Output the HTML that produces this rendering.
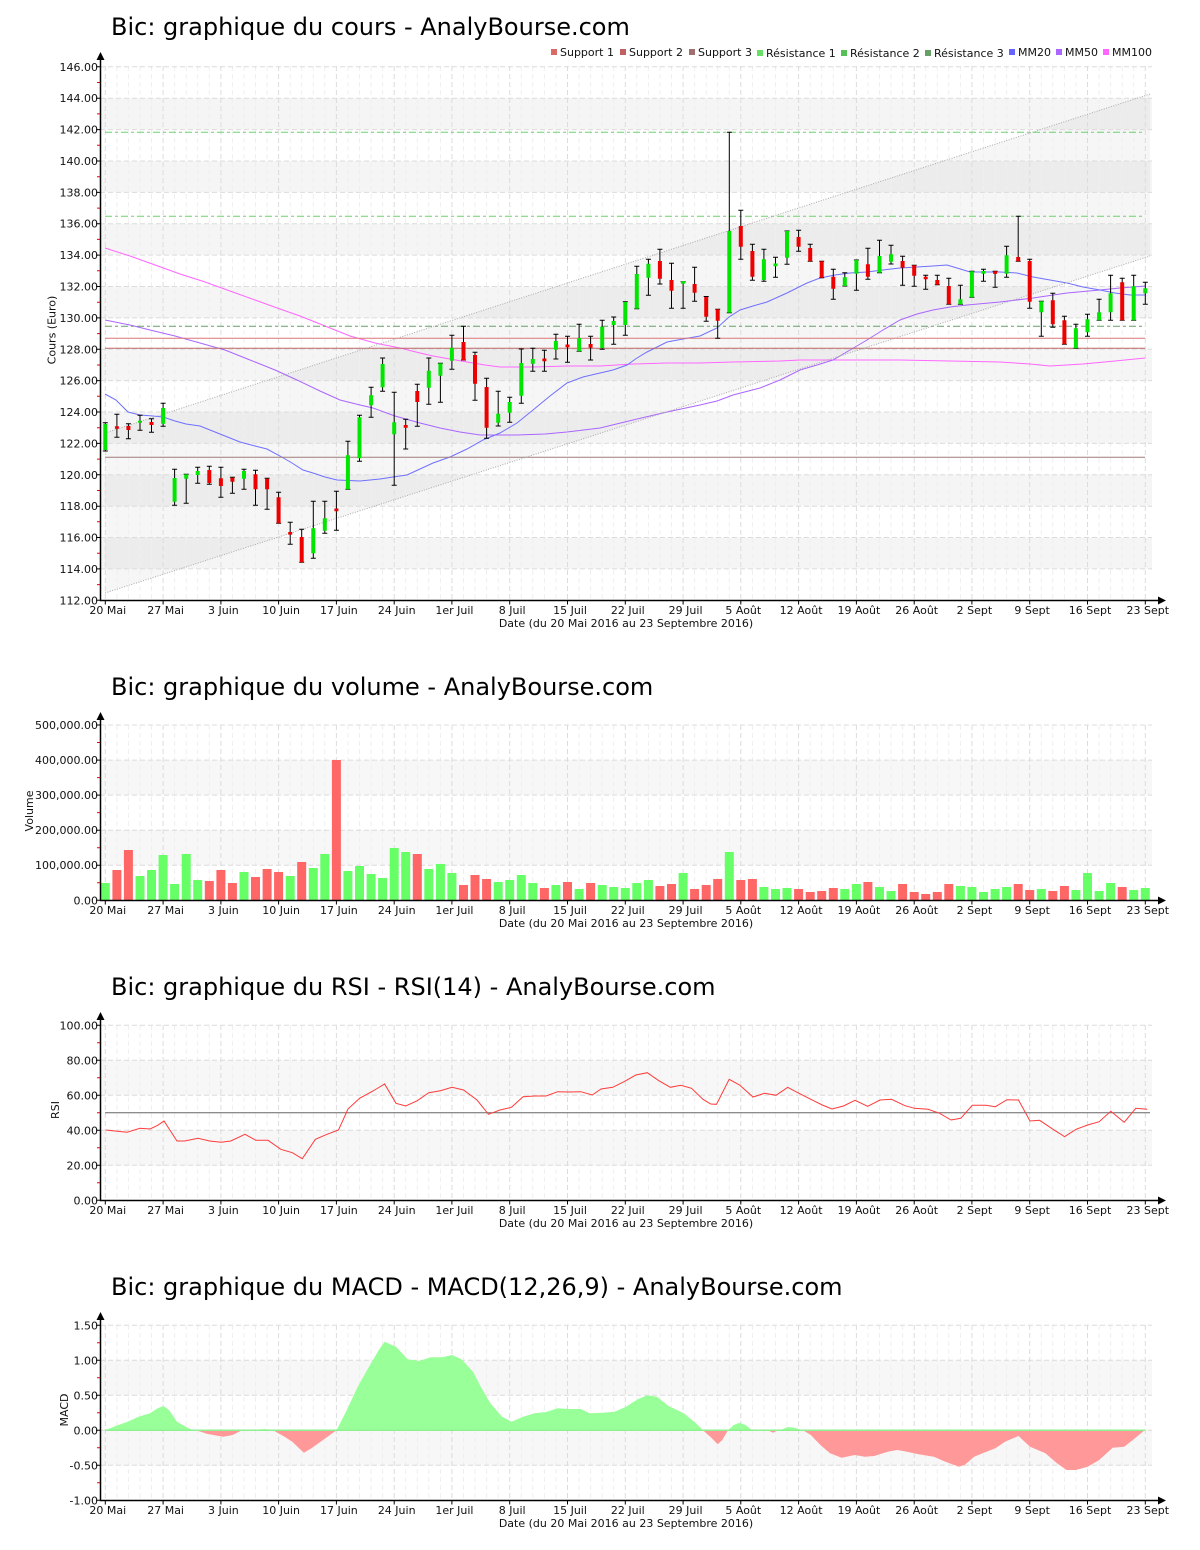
<!DOCTYPE html>
<html><head><meta charset="utf-8"><style>
html,body{margin:0;padding:0;background:#fff;width:1200px;height:1550px;overflow:hidden}
svg{display:block;overflow:hidden}
text{font-family:"DejaVu Sans","Liberation Sans",sans-serif;fill:#111}
.t{font-size:24px;fill:#000}
.l{font-size:11px}
</style></head><body>
<svg width="1200" height="1550" viewBox="0 0 1200 1550" xmlns="http://www.w3.org/2000/svg">
<defs>
<path id="vgm" d="M116.9 0v534M128.4 0v534M140 0v534M151.5 0v534M174.6 0v534M186.2 0v534M197.7 0v534M209.3 0v534M232.4 0v534M244 0v534M255.5 0v534M267.1 0v534M290.2 0v534M301.7 0v534M313.3 0v534M324.8 0v534M347.9 0v534M359.5 0v534M371.1 0v534M382.6 0v534M405.7 0v534M417.3 0v534M428.8 0v534M440.4 0v534M463.5 0v534M475 0v534M486.6 0v534M498.2 0v534M521.3 0v534M532.8 0v534M544.4 0v534M555.9 0v534M579.1 0v534M590.6 0v534M602.2 0v534M613.7 0v534M636.8 0v534M648.4 0v534M659.9 0v534M671.5 0v534M694.6 0v534M706.2 0v534M717.7 0v534M729.3 0v534M752.4 0v534M763.9 0v534M775.5 0v534M787 0v534M810.2 0v534M821.7 0v534M833.3 0v534M844.8 0v534M867.9 0v534M879.5 0v534M891 0v534M902.6 0v534M925.7 0v534M937.3 0v534M948.8 0v534M960.4 0v534M983.5 0v534M995.1 0v534M1006.6 0v534M1018.2 0v534M1041.3 0v534M1052.8 0v534M1064.4 0v534M1075.9 0v534M1099.1 0v534M1110.6 0v534M1122.2 0v534M1133.7 0v534" fill="none" stroke="#efefef" stroke-width="1" stroke-dasharray="5,3"/>
<path id="vgM" d="M105.3 0v534M163.1 0v534M220.9 0v534M278.6 0v534M336.4 0v534M394.2 0v534M451.9 0v534M509.7 0v534M567.5 0v534M625.3 0v534M683.1 0v534M740.8 0v534M798.6 0v534M856.4 0v534M914.2 0v534M971.9 0v534M1029.7 0v534M1087.5 0v534M1145.3 0v534" fill="none" stroke="#dcdcdc" stroke-width="1" stroke-dasharray="5,3"/>
<path id="vgm2" d="M116.9 0v175M128.4 0v175M140 0v175M151.5 0v175M174.6 0v175M186.2 0v175M197.7 0v175M209.3 0v175M232.4 0v175M244 0v175M255.5 0v175M267.1 0v175M290.2 0v175M301.7 0v175M313.3 0v175M324.8 0v175M347.9 0v175M359.5 0v175M371.1 0v175M382.6 0v175M405.7 0v175M417.3 0v175M428.8 0v175M440.4 0v175M463.5 0v175M475 0v175M486.6 0v175M498.2 0v175M521.3 0v175M532.8 0v175M544.4 0v175M555.9 0v175M579.1 0v175M590.6 0v175M602.2 0v175M613.7 0v175M636.8 0v175M648.4 0v175M659.9 0v175M671.5 0v175M694.6 0v175M706.2 0v175M717.7 0v175M729.3 0v175M752.4 0v175M763.9 0v175M775.5 0v175M787 0v175M810.2 0v175M821.7 0v175M833.3 0v175M844.8 0v175M867.9 0v175M879.5 0v175M891 0v175M902.6 0v175M925.7 0v175M937.3 0v175M948.8 0v175M960.4 0v175M983.5 0v175M995.1 0v175M1006.6 0v175M1018.2 0v175M1041.3 0v175M1052.8 0v175M1064.4 0v175M1075.9 0v175M1099.1 0v175M1110.6 0v175M1122.2 0v175M1133.7 0v175" fill="none" stroke="#efefef" stroke-width="1" stroke-dasharray="5,3"/>
<path id="vgM2" d="M105.3 0v175M163.1 0v175M220.9 0v175M278.6 0v175M336.4 0v175M394.2 0v175M451.9 0v175M509.7 0v175M567.5 0v175M625.3 0v175M683.1 0v175M740.8 0v175M798.6 0v175M856.4 0v175M914.2 0v175M971.9 0v175M1029.7 0v175M1087.5 0v175M1145.3 0v175" fill="none" stroke="#dcdcdc" stroke-width="1" stroke-dasharray="5,3"/>
<path id="xt" d="M105.3 0v4M163.1 0v4M220.9 0v4M278.6 0v4M336.4 0v4M394.2 0v4M451.9 0v4M509.7 0v4M567.5 0v4M625.3 0v4M683.1 0v4M740.8 0v4M798.6 0v4M856.4 0v4M914.2 0v4M971.9 0v4M1029.7 0v4M1087.5 0v4M1145.3 0v4" fill="none" stroke="#000" stroke-width="1"/>
<g id="xl" class="l" text-anchor="middle">
<text x="107.8" y="0">20 Mai</text><text x="165.6" y="0">27 Mai</text><text x="223.4" y="0">3 Juin</text><text x="281.1" y="0">10 Juin</text><text x="338.9" y="0">17 Juin</text><text x="396.7" y="0">24 Juin</text><text x="454.4" y="0">1er Juil</text><text x="512.2" y="0">8 Juil</text><text x="570" y="0">15 Juil</text><text x="627.8" y="0">22 Juil</text><text x="685.6" y="0">29 Juil</text><text x="743.3" y="0">5 Août</text><text x="801.1" y="0">12 Août</text><text x="858.9" y="0">19 Août</text><text x="916.7" y="0">26 Août</text><text x="974.4" y="0">2 Sept</text><text x="1032.2" y="0">9 Sept</text><text x="1090" y="0">16 Sept</text><text x="1147.8" y="0">23 Sept</text>
<text x="626" y="13">Date (du 20 Mai 2016 au 23 Septembre 2016)</text>
</g>
</defs>
<rect width="1200" height="1550" fill="#fff"/>

<!-- ============ CHART 1 : COURS ============ -->
<text class="t" x="111" y="35">Bic: graphique du cours - AnalyBourse.com</text>
<g class="l">
<rect x="551" y="49" width="6" height="6" fill="#d86a6a"/><text x="560" y="56">Support 1</text>
<rect x="620" y="49" width="6" height="6" fill="#c06060"/><text x="629" y="56">Support 2</text>
<rect x="689" y="49" width="6" height="6" fill="#a07070"/><text x="698" y="56">Support 3</text>
<rect x="757" y="50" width="6" height="6" fill="#66e066"/><text x="766" y="57">Résistance 1</text>
<rect x="841" y="50" width="6" height="6" fill="#55c055"/><text x="850" y="57">Résistance 2</text>
<rect x="925" y="50" width="6" height="6" fill="#66a066"/><text x="934" y="57">Résistance 3</text>
<rect x="1009" y="49" width="6" height="6" fill="#6666ff"/><text x="1018" y="56">MM20</text>
<rect x="1056" y="49" width="6" height="6" fill="#aa66ff"/><text x="1065" y="56">MM50</text>
<rect x="1103" y="49" width="6" height="6" fill="#ff66ff"/><text x="1112" y="56">MM100</text>
</g>
<g fill="#f5f5f5">
<rect x="100" y="537.5" width="1052" height="31.4"/><rect x="100" y="474.8" width="1052" height="31.4"/><rect x="100" y="412" width="1052" height="31.4"/><rect x="100" y="349.3" width="1052" height="31.3"/><rect x="100" y="286.5" width="1052" height="31.4"/><rect x="100" y="223.7" width="1052" height="31.4"/><rect x="100" y="161" width="1052" height="31.4"/><rect x="100" y="98.2" width="1052" height="31.4"/>
</g>
<polygon points="105,433 1150,94 1150,256 105,593" fill="#000" fill-opacity="0.035"/>
<use href="#vgm" y="66"/><use href="#vgM" y="66"/>
<path d="M100 568.9H1152M100 537.5H1152M100 506.2H1152M100 474.8H1152M100 443.4H1152M100 412H1152M100 380.6H1152M100 349.3H1152M100 317.9H1152M100 286.5H1152M100 255.1H1152M100 223.7H1152M100 192.4H1152M100 161H1152M100 129.6H1152M100 98.2H1152M100 66.8H1152" stroke="#dcdcdc" stroke-dasharray="5,3" fill="none"/>
<polyline fill="none" stroke="#ff66ff" stroke-width="1" points="105,248 130,256 155,265 180,274 205,282 230,291 255,300 280,309 300,316 325,326 350,336 375,343 400,348 420,353 433,356 450,359 467,362 485,365 500,367 533,367 567,366 600,366 633,364 667,363 700,363 733,362 780,361 800,360 850,360 900,360 950,361 1000,362 1030,364 1050,366 1083,364 1115,361 1145,358"/>
<polyline fill="none" stroke="#aa66ff" stroke-width="1" points="105,320 130,325 150,330 175,336 200,343 225,350 250,360 275,370 297,380 320,391 340,400 360,405 373,408 395,416 420,423 440,428 460,432 480,435 517,435 545,434 567,432 600,428 633,420 667,412 700,405 717,401 733,395 760,388 780,380 800,370 817,365 833,360 850,350 867,340 883,330 900,320 917,314 933,310 950,307 967,305 1000,302 1033,298 1067,293 1100,290 1120,288 1145,286"/>
<polyline fill="none" stroke="#7070ff" stroke-width="1" points="105,394 116,400 128,412 140,415 153,416 163,417 175,421 186,424 200,426 220,434 240,442 255,446 267,449 280,456 292,463 303,470 313,473 325,477 337,480 360,481 380,479 393,477 407,475 420,469 433,463 450,457 467,449 483,440 500,433 517,423 533,410 550,396 567,383 583,377 600,373 613,370 627,365 637,358 647,352 667,342 683,339 700,336 717,328 729,317 740,310 753,306 767,302 787,293 807,283 820,278 835,275 850,273 867,272 883,270 900,268 917,267 933,266 947,265 957,268 970,272 985,272 1000,272 1017,273 1033,277 1050,280 1067,283 1083,287 1100,290 1115,293 1130,295 1145,295"/>
<path d="M105 338.3H1145" stroke="#dd7777" stroke-width="1" fill="none"/>
<path d="M105 348.3H1145" stroke="#bb6666" stroke-width="1" fill="none"/>
<path d="M105 457.3H1145" stroke="#a07a7a" stroke-width="1" fill="none"/>
<path d="M105 216.3H1145M105 132.3H1145" stroke="#6cd06c" stroke-width="1" stroke-dasharray="7,3,3,3" fill="none"/>
<path d="M105 326.3H1145" stroke="#66a066" stroke-width="1" stroke-dasharray="7,3,3,3" fill="none"/>
<path d="M105 433L1150 94M105 593L1150 256" stroke="#aaaaaa" stroke-width="1" stroke-dasharray="1,1.5" fill="none"/>
<path fill="none" stroke="#000" stroke-width="1" d="M102.8 422.7h5M105.3 422.7V451M102.8 451h5M114.4 414.3h5M116.9 414.3V437.3M114.4 437.3h5M125.9 423.7h5M128.4 423.7V438.7M125.9 438.7h5M137.5 415.3h5M140 415.3V430.3M137.5 430.3h5M149 418.7h5M151.5 418.7V432.3M149 432.3h5M160.6 403.3h5M163.1 403.3V426.3M160.6 426.3h5M172.1 469.3h5M174.6 469.3V505.3M172.1 505.3h5M183.7 474.3h5M186.2 474.3V503.3M183.7 503.3h5M195.2 467.3h5M197.7 467.3V483.3M195.2 483.3h5M206.8 466.3h5M209.3 466.3V484.3M206.8 484.3h5M218.4 467.3h5M220.9 467.3V497.3M218.4 497.3h5M229.9 477.3h5M232.4 477.3V493.3M229.9 493.3h5M241.5 469.3h5M244 469.3V489.3M241.5 489.3h5M253 470.3h5M255.5 470.3V505.3M253 505.3h5M264.6 478.3h5M267.1 478.3V509.3M264.6 509.3h5M276.1 492.3h5M278.6 492.3V523.3M276.1 523.3h5M287.7 522.3h5M290.2 522.3V544.3M287.7 544.3h5M299.2 529.3h5M301.7 529.3V562.3M299.2 562.3h5M310.8 501.3h5M313.3 501.3V558.3M310.8 558.3h5M322.3 501.3h5M324.8 501.3V533.3M322.3 533.3h5M333.9 491.3h5M336.4 491.3V530.3M333.9 530.3h5M345.4 441.3h5M347.9 441.3V489.3M345.4 489.3h5M357 415.3h5M359.5 415.3V461.3M357 461.3h5M368.6 387.3h5M371.1 387.3V417.3M368.6 417.3h5M380.1 358h5M382.6 358V391.3M380.1 391.3h5M391.7 392.3h5M394.2 392.3V485.3M391.7 485.3h5M403.2 419.3h5M405.7 419.3V449M403.2 449h5M414.8 384.3h5M417.3 384.3V426.3M414.8 426.3h5M426.3 358h5M428.8 358V404.3M426.3 404.3h5M437.9 363.3h5M440.4 363.3V402.3M437.9 402.3h5M449.4 335.3h5M451.9 335.3V369.3M449.4 369.3h5M461 326.3h5M463.5 326.3V360M461 360h5M472.5 352.3h5M475 352.3V400.3M472.5 400.3h5M484.1 378.3h5M486.6 378.3V438.3M484.1 438.3h5M495.7 391.3h5M498.2 391.3V426M495.7 426h5M507.2 397.3h5M509.7 397.3V422.3M507.2 422.3h5M518.8 349h5M521.3 349V403.3M518.8 403.3h5M530.3 348.3h5M532.8 348.3V371.3M530.3 371.3h5M541.9 350.3h5M544.4 350.3V371.3M541.9 371.3h5M553.4 334.3h5M555.9 334.3V359M553.4 359h5M565 336.3h5M567.5 336.3V362.3M565 362.3h5M576.6 324.3h5M579.1 324.3V351.3M576.6 351.3h5M588.1 336.3h5M590.6 336.3V360M588.1 360h5M599.7 320.3h5M602.2 320.3V349.3M599.7 349.3h5M611.2 317h5M613.7 317V344.3M611.2 344.3h5M622.8 301.7h5M625.3 301.7V335.3M622.8 335.3h5M634.3 266.3h5M636.8 266.3V308.7M634.3 308.7h5M645.9 259.3h5M648.4 259.3V295.3M645.9 295.3h5M657.4 249.3h5M659.9 249.3V284M657.4 284h5M669 263.3h5M671.5 263.3V308.3M669 308.3h5M680.6 281.7h5M683.1 281.7V308.3M680.6 308.3h5M692.1 267.3h5M694.6 267.3V301.3M692.1 301.3h5M703.7 296.5h5M706.2 296.5V321.3M703.7 321.3h5M715.2 309.3h5M717.7 309.3V338.3M715.2 338.3h5M726.8 132.3h5M729.3 132.3V312.7M726.8 312.7h5M738.3 210.3h5M740.8 210.3V259.3M738.3 259.3h5M749.9 244.3h5M752.4 244.3V280.3M749.9 280.3h5M761.4 249.3h5M763.9 249.3V281.3M761.4 281.3h5M773 257.3h5M775.5 257.3V277.3M773 277.3h5M784.5 231h5M787 231V264.3M784.5 264.3h5M796.1 230.3h5M798.6 230.3V251.3M796.1 251.3h5M807.7 244.3h5M810.2 244.3V261.3M807.7 261.3h5M819.2 261.3h5M821.7 261.3V277.7M819.2 277.7h5M830.8 269.3h5M833.3 269.3V299.3M830.8 299.3h5M842.3 272.7h5M844.8 272.7V286M842.3 286h5M853.9 260h5M856.4 260V290.3M853.9 290.3h5M865.4 248.3h5M867.9 248.3V279.3M865.4 279.3h5M877 240.3h5M879.5 240.3V272.7M877 272.7h5M888.5 245.3h5M891 245.3V264M888.5 264h5M900.1 256.3h5M902.6 256.3V285.3M900.1 285.3h5M911.7 265.3h5M914.2 265.3V286.3M911.7 286.3h5M923.2 275.3h5M925.7 275.3V289.3M923.2 289.3h5M934.8 275.3h5M937.3 275.3V284.7M934.8 284.7h5M946.3 278.3h5M948.8 278.3V304.3M946.3 304.3h5M957.9 285.3h5M960.4 285.3V304.3M957.9 304.3h5M969.4 271.3h5M971.9 271.3V297.3M969.4 297.3h5M981 269.3h5M983.5 269.3V281.3M981 281.3h5M992.6 271.3h5M995.1 271.3V287.3M992.6 287.3h5M1004.1 246.3h5M1006.6 246.3V277.3M1004.1 277.3h5M1015.7 216.3h5M1018.2 216.3V261.3M1015.7 261.3h5M1027.2 259.3h5M1029.7 259.3V308.3M1027.2 308.3h5M1038.8 301.3h5M1041.3 301.3V336.3M1038.8 336.3h5M1050.3 293.3h5M1052.8 293.3V327.3M1050.3 327.3h5M1061.9 316.3h5M1064.4 316.3V344.3M1061.9 344.3h5M1073.4 324.3h5M1075.9 324.3V348.3M1073.4 348.3h5M1085 314.3h5M1087.5 314.3V336.3M1085 336.3h5M1096.6 299.3h5M1099.1 299.3V320.3M1096.6 320.3h5M1108.1 275.3h5M1110.6 275.3V320.3M1108.1 320.3h5M1119.7 278.3h5M1122.2 278.3V320.3M1119.7 320.3h5M1131.2 275.3h5M1133.7 275.3V320.3M1131.2 320.3h5M1142.8 282.3h5M1145.3 282.3V304.3M1142.8 304.3h5"/>
<path fill="#00e600" d="M103.3 424h4V450h-4ZM138 420.7h4V422.7h-4ZM161.1 408h4V423.7h-4ZM172.6 478h4V501.7h-4ZM184.2 474.3h4V478.7h-4ZM195.7 471h4V475h-4ZM242 471h4V478.7h-4ZM311.3 528.3h4V553.3h-4ZM322.8 518.3h4V530.7h-4ZM345.9 455.3h4V489.3h-4ZM357.5 417.3h4V458.3h-4ZM369.1 395.3h4V405.3h-4ZM380.6 364h4V387.3h-4ZM392.2 422.3h4V434.3h-4ZM426.8 370.7h4V387.7h-4ZM438.4 363.3h4V375.7h-4ZM449.9 347.7h4V360.7h-4ZM496.2 413.7h4V422.7h-4ZM507.7 402h4V412.7h-4ZM519.3 363h4V395.7h-4ZM530.8 359h4V363.7h-4ZM553.9 341h4V349.7h-4ZM577.1 338h4V351.3h-4ZM600.2 326.7h4V348h-4ZM611.7 321h4V325h-4ZM623.3 302h4V325h-4ZM634.8 274h4V308.7h-4ZM646.4 263.7h4V277.7h-4ZM681.1 281.2h4V283.8h-4ZM727.3 231h4V312.7h-4ZM761.9 259.3h4V280h-4ZM773.5 263.5h4V266.2h-4ZM785 231h4V257.7h-4ZM842.8 277.3h4V286h-4ZM854.4 260h4V273.7h-4ZM877.5 256h4V272.7h-4ZM889 254.3h4V261.7h-4ZM958.4 299.3h4V304.3h-4ZM969.9 271.3h4V297.3h-4ZM981.5 271h4V273.7h-4ZM1004.6 255.3h4V273.7h-4ZM1039.3 301.3h4V312.3h-4ZM1073.9 328.3h4V348.3h-4ZM1085.5 319.3h4V332.3h-4ZM1097.1 312.3h4V320.3h-4ZM1108.6 293.3h4V312.3h-4ZM1131.7 286.3h4V320.3h-4ZM1143.3 288.3h4V293.3h-4Z"/>
<path fill="#ee0000" d="M114.9 426.2h4V428.8h-4ZM126.4 426h4V430h-4ZM149.5 422h4V425h-4ZM207.3 470h4V483h-4ZM218.9 478.3h4V486h-4ZM230.4 477.7h4V481.7h-4ZM253.5 474.3h4V489.3h-4ZM265.1 478.7h4V489.3h-4ZM276.6 497.3h4V523.3h-4ZM288.2 532h4V534.6h-4ZM299.7 537h4V562.3h-4ZM334.4 508.5h4V511.2h-4ZM403.7 425h4V427.7h-4ZM415.3 391h4V402h-4ZM461.5 342h4V360.3h-4ZM473 355h4V383.7h-4ZM484.6 387h4V427.7h-4ZM542.4 358.5h4V361.2h-4ZM565.5 344.5h4V347.2h-4ZM588.6 344h4V347.7h-4ZM657.9 261h4V278.7h-4ZM669.5 280h4V290.7h-4ZM692.6 284h4V292.7h-4ZM704.2 297h4V316.7h-4ZM715.7 309.3h4V320.7h-4ZM738.8 226h4V246.7h-4ZM750.4 251h4V276.7h-4ZM796.6 237h4V246.7h-4ZM808.2 248h4V261.3h-4ZM819.7 261.3h4V277.7h-4ZM831.3 276.7h4V288.7h-4ZM865.9 264.3h4V276.7h-4ZM900.6 261h4V267.7h-4ZM912.2 265.3h4V275.7h-4ZM923.7 276.7h4V279.3h-4ZM935.3 280h4V284.7h-4ZM946.8 286h4V304.3h-4ZM993.1 271.3h4V273.9h-4ZM1016.2 257h4V261.3h-4ZM1027.7 261h4V301.7h-4ZM1050.8 300.3h4V324.3h-4ZM1062.4 320.3h4V344.3h-4ZM1120.2 282.3h4V320.3h-4Z"/>
<path d="M100.5 59V600.5H1159" stroke="#000" stroke-width="1.5" fill="none"/>
<path d="M100.5 52L96.5 60H104.5Z" fill="#000"/>
<path d="M1166 600.5L1158 596.5V604.5Z" fill="#000"/>
<path d="M96 600.3h4M96 568.9h4M96 537.5h4M96 506.2h4M96 474.8h4M96 443.4h4M96 412h4M96 380.6h4M96 349.3h4M96 317.9h4M96 286.5h4M96 255.1h4M96 223.7h4M96 192.4h4M96 161h4M96 129.6h4M96 98.2h4M96 66.8h4" stroke="#000" fill="none"/>
<path d="M97 584.6h3M97 553.2h3M97 521.8h3M97 490.5h3M97 459.1h3M97 427.7h3M97 396.3h3M97 365h3M97 333.6h3M97 302.2h3M97 270.8h3M97 239.4h3M97 208.1h3M97 176.7h3M97 145.3h3M97 113.9h3M97 82.5h3" stroke="#e00" fill="none"/>
<use href="#xt" y="600.5"/>
<g class="l" text-anchor="end">
<text x="98" y="604.3">112.00</text><text x="98" y="572.9">114.00</text><text x="98" y="541.5">116.00</text><text x="98" y="510.2">118.00</text><text x="98" y="478.8">120.00</text><text x="98" y="447.4">122.00</text><text x="98" y="416">124.00</text><text x="98" y="384.6">126.00</text><text x="98" y="353.3">128.00</text><text x="98" y="321.9">130.00</text><text x="98" y="290.5">132.00</text><text x="98" y="259.1">134.00</text><text x="98" y="227.7">136.00</text><text x="98" y="196.4">138.00</text><text x="98" y="165">140.00</text><text x="98" y="133.6">142.00</text><text x="98" y="102.2">144.00</text><text x="98" y="70.8">146.00</text>
</g>
<text class="l" text-anchor="middle" transform="translate(55.5,330) rotate(-90)">Cours (Euro)</text>
<use href="#xl" y="614"/>

<!-- ============ CHART 2 : VOLUME ============ -->
<text class="t" x="111" y="695">Bic: graphique du volume - AnalyBourse.com</text>
<g fill="#f7f7f7"><rect x="100" y="830.2" width="1052" height="35"/><rect x="100" y="760.1" width="1052" height="35"/></g>
<use href="#vgm2" y="725"/><use href="#vgM2" y="725"/>
<path d="M100 865.2H1152M100 830.2H1152M100 795.1H1152M100 760.1H1152M100 725H1152" stroke="#dcdcdc" stroke-dasharray="5,3" fill="none"/>
<path fill="#66ff66" d="M100.8 883h9V900h-9ZM135.5 876h9V900h-9ZM147 870h9V900h-9ZM158.6 855h9V900h-9ZM170.1 884h9V900h-9ZM181.7 854h9V900h-9ZM193.2 880h9V900h-9ZM239.5 872h9V900h-9ZM285.7 876h9V900h-9ZM308.8 868h9V900h-9ZM320.3 854h9V900h-9ZM343.4 871h9V900h-9ZM355 866h9V900h-9ZM366.6 874h9V900h-9ZM378.1 878h9V900h-9ZM389.7 848h9V900h-9ZM401.2 852h9V900h-9ZM424.3 869h9V900h-9ZM435.9 864h9V900h-9ZM447.4 873h9V900h-9ZM493.7 882h9V900h-9ZM505.2 880h9V900h-9ZM516.8 875h9V900h-9ZM528.3 883h9V900h-9ZM551.4 885h9V900h-9ZM574.6 889h9V900h-9ZM597.7 885h9V900h-9ZM609.2 887h9V900h-9ZM620.8 888h9V900h-9ZM632.3 883h9V900h-9ZM643.9 880h9V900h-9ZM678.6 873h9V900h-9ZM724.8 852h9V900h-9ZM759.4 887h9V900h-9ZM771 889h9V900h-9ZM782.5 888h9V900h-9ZM840.3 889h9V900h-9ZM851.9 884h9V900h-9ZM875 887h9V900h-9ZM886.5 891h9V900h-9ZM955.9 886h9V900h-9ZM967.4 887h9V900h-9ZM979 892h9V900h-9ZM990.6 889h9V900h-9ZM1002.1 887h9V900h-9ZM1036.8 889h9V900h-9ZM1071.4 890h9V900h-9ZM1083 873h9V900h-9ZM1094.6 891h9V900h-9ZM1106.1 883h9V900h-9ZM1129.2 890h9V900h-9ZM1140.8 888h9V900h-9Z"/>
<path fill="#ff6666" d="M112.4 870h9V900h-9ZM123.9 850h9V900h-9ZM204.8 881h9V900h-9ZM216.4 870h9V900h-9ZM227.9 883h9V900h-9ZM251 877h9V900h-9ZM262.6 869h9V900h-9ZM274.1 872h9V900h-9ZM297.2 862h9V900h-9ZM331.9 760h9V900h-9ZM412.8 854h9V900h-9ZM459 885h9V900h-9ZM470.5 875h9V900h-9ZM482.1 879h9V900h-9ZM539.9 888h9V900h-9ZM563 882h9V900h-9ZM586.1 883h9V900h-9ZM655.4 886h9V900h-9ZM667 884h9V900h-9ZM690.1 889h9V900h-9ZM701.7 885h9V900h-9ZM713.2 879h9V900h-9ZM736.3 880h9V900h-9ZM747.9 879h9V900h-9ZM794.1 889h9V900h-9ZM805.7 892h9V900h-9ZM817.2 891h9V900h-9ZM828.8 888h9V900h-9ZM863.4 882h9V900h-9ZM898.1 884h9V900h-9ZM909.7 892h9V900h-9ZM921.2 894h9V900h-9ZM932.8 892h9V900h-9ZM944.3 884h9V900h-9ZM1013.7 884h9V900h-9ZM1025.2 890h9V900h-9ZM1048.3 891h9V900h-9ZM1059.9 886h9V900h-9ZM1117.7 887h9V900h-9Z"/>
<path d="M100.5 719V900.5H1159" stroke="#000" stroke-width="1.5" fill="none"/>
<path d="M100.5 712L96.5 720H104.5Z" fill="#000"/>
<path d="M1166 900.5L1158 896.5V904.5Z" fill="#000"/>
<path d="M96 900.3h4M96 865.2h4M96 830.2h4M96 795.1h4M96 760.1h4M96 725h4" stroke="#000" fill="none"/>
<path d="M97 882.8h3M97 847.7h3M97 812.6h3M97 777.6h3M97 742.5h3" stroke="#e00" fill="none"/>
<use href="#xt" y="900.5"/>
<g class="l" text-anchor="end">
<text x="98" y="904.3">0.00</text><text x="98" y="869.2">100,000.00</text><text x="98" y="834.2">200,000.00</text><text x="98" y="799.1">300,000.00</text><text x="98" y="764.1">400,000.00</text><text x="98" y="729">500,000.00</text>
</g>
<text class="l" text-anchor="middle" transform="translate(33,811) rotate(-90)">Volume</text>
<use href="#xl" y="914"/>

<!-- ============ CHART 3 : RSI ============ -->
<text class="t" x="111" y="995">Bic: graphique du RSI - RSI(14) - AnalyBourse.com</text>
<g fill="#f7f7f7"><rect x="100" y="1130.3" width="1052" height="35"/><rect x="100" y="1060.3" width="1052" height="35"/></g>
<use href="#vgm2" y="1025"/><use href="#vgM2" y="1025"/>
<path d="M100 1165.3H1152M100 1130.3H1152M100 1095.3H1152M100 1060.3H1152M100 1025.3H1152" stroke="#dcdcdc" stroke-dasharray="5,3" fill="none"/>
<path d="M105 1112.8H1150" stroke="#666" stroke-width="1" fill="none"/>
<polyline fill="none" stroke="#ff3b3b" stroke-width="1" points="105.8,1130 115,1131 127,1132.3 140,1128.3 150,1129 157.7,1125.3 164,1121 177,1141 184.6,1141 198,1138.3 209.6,1141 221,1142.3 230.8,1141 245,1134.3 255.8,1140.3 268,1140.3 280.8,1149.3 292.3,1152.7 302.3,1158.7 315.4,1139.3 327,1134.3 338.5,1130 348,1109 359.6,1098.3 373,1091 384.6,1084 396,1103.3 405.8,1106 417.3,1100.7 428.8,1092.7 440.4,1090.7 452,1087.3 463.5,1090 477,1100 488.5,1114.3 500,1110 511.5,1107.3 523,1096.7 534.6,1096 546,1096 557.7,1091.7 569,1092 580.8,1091.7 592.3,1095 601,1089 612.7,1087.3 624,1081.7 635.8,1075 647.3,1072.7 658.8,1080.7 670.4,1087.3 680.8,1085.3 691.5,1088.3 703,1099.3 710.8,1104 716.5,1104.3 729.2,1079.3 739.6,1085 753,1097 764.6,1093.3 776,1095.3 787.7,1087.3 799,1093.3 810.8,1099.3 822.3,1105 832,1109 843.5,1106 855,1100.3 867.7,1106.3 880,1100 891.5,1099.3 905,1105.7 914.6,1108.3 928,1109.3 939.6,1113.3 951,1120 960.8,1118.3 972.3,1105.3 985.8,1105.3 995.4,1106.7 1006.9,1099.7 1018.5,1100 1030,1121 1039.6,1120.3 1053,1129.3 1064.6,1136.7 1076,1129.3 1087.7,1125 1099.2,1121.7 1110.8,1111.3 1124.2,1122.3 1135.8,1108.3 1147.3,1109.3"/>
<path d="M100.5 1019V1200.5H1159" stroke="#000" stroke-width="1.5" fill="none"/>
<path d="M100.5 1012L96.5 1020H104.5Z" fill="#000"/>
<path d="M1166 1200.5L1158 1196.5V1204.5Z" fill="#000"/>
<path d="M96 1200.3h4M96 1165.3h4M96 1130.3h4M96 1095.3h4M96 1060.3h4M96 1025.3h4" stroke="#000" fill="none"/>
<path d="M97 1182.8h3M97 1147.8h3M97 1112.8h3M97 1077.8h3M97 1042.8h3" stroke="#e00" fill="none"/>
<use href="#xt" y="1200.5"/>
<g class="l" text-anchor="end">
<text x="98" y="1204.3">0.00</text><text x="98" y="1169.3">20.00</text><text x="98" y="1134.3">40.00</text><text x="98" y="1099.3">60.00</text><text x="98" y="1064.3">80.00</text><text x="98" y="1029.3">100.00</text>
</g>
<text class="l" text-anchor="middle" transform="translate(59,1110) rotate(-90)">RSI</text>
<use href="#xl" y="1214"/>

<!-- ============ CHART 4 : MACD ============ -->
<text class="t" x="111" y="1295">Bic: graphique du MACD - MACD(12,26,9) - AnalyBourse.com</text>
<g fill="#f7f7f7"><rect x="100" y="1360.3" width="1052" height="35"/><rect x="100" y="1430.3" width="1052" height="35"/></g>
<use href="#vgm2" y="1325"/><use href="#vgM2" y="1325"/>
<path d="M100 1465.3H1152M100 1430.3H1152M100 1395.3H1152M100 1360.3H1152M100 1325.3H1152" stroke="#dcdcdc" stroke-dasharray="5,3" fill="none"/>
<g fill="#99ff99">
<polygon points="105.8,1430.3 115.4,1426 127,1422 138.5,1416.7 150,1413.3 157.7,1408.3 163.5,1406 169,1410 177,1421.7 188.5,1428.3 194,1430.3"/>
<polygon points="246,1430.3 265,1429 272,1430.3"/>
<polygon points="336.5,1430.3 346,1411.7 357.7,1386.7 369,1366.7 378.8,1350 384.6,1341.7 396,1346.7 407.7,1359.3 419,1361 430.8,1357.3 442.3,1357.3 452,1355 461.5,1359.3 473,1371.7 480.8,1386.7 490.4,1403.3 502,1416.7 511.5,1421.7 523,1416.7 534.6,1413.3 546,1412 557.7,1408.3 569,1409 580.8,1409 589.6,1413.3 603,1412.7 614.6,1411.7 626,1406.7 637.7,1399.3 647.3,1395.3 657,1396.7 668.5,1406 683.8,1413.3 695.4,1422.7 703,1430.3"/>
<polygon points="728,1430.3 733.8,1425 739.6,1422.7 745.4,1425 752.3,1430.3"/>
<polygon points="780,1430.3 787.7,1427 795.4,1428 803,1430.3"/>
</g>
<g fill="#ff9999">
<polygon points="196,1430.3 207.7,1434 223,1436.7 232.7,1435 242,1430.3"/>
<polygon points="273,1430.3 284.6,1436.7 292.3,1441.7 303.8,1452.7 311.5,1448.3 323,1440 336.5,1430.3"/>
<polygon points="703,1430.3 710.8,1437.3 717.7,1444.3 722.3,1440 728,1430.3"/>
<polygon points="768,1430.3 773,1432.7 778,1430.3"/>
<polygon points="803,1430.3 810.8,1435 820.4,1445 830,1453.3 841.5,1457.7 855,1455 864.6,1456.7 874.2,1456 887.7,1451.7 897.3,1450 907,1451.7 918.5,1454.3 933.8,1456.7 945.4,1461.7 958.8,1466.7 964.6,1465 974.2,1456.7 983.8,1452.7 995.4,1448.3 1005,1441.7 1018.5,1436 1030,1446.7 1045.4,1453.3 1056.9,1463.3 1066.5,1470 1076,1470 1087.7,1466.7 1099.2,1460 1112.7,1447.7 1124.2,1446.7 1133.8,1439.3 1144.6,1430.3"/>
</g>
<path d="M105 1430.3H1145" stroke="#8ef08e" stroke-width="1.5" fill="none"/>
<path d="M100.5 1319V1500.5H1159" stroke="#000" stroke-width="1.5" fill="none"/>
<path d="M100.5 1312L96.5 1320H104.5Z" fill="#000"/>
<path d="M1166 1500.5L1158 1496.5V1504.5Z" fill="#000"/>
<path d="M96 1500.3h4M96 1465.3h4M96 1430.3h4M96 1395.3h4M96 1360.3h4M96 1325.3h4" stroke="#000" fill="none"/>
<path d="M97 1482.8h3M97 1447.8h3M97 1412.8h3M97 1377.8h3M97 1342.8h3" stroke="#e00" fill="none"/>
<use href="#xt" y="1500.5"/>
<g class="l" text-anchor="end">
<text x="98" y="1504.3">-1.00</text><text x="98" y="1469.3">-0.50</text><text x="98" y="1434.3">0.00</text><text x="98" y="1399.3">0.50</text><text x="98" y="1364.3">1.00</text><text x="98" y="1329.3">1.50</text>
</g>
<text class="l" text-anchor="middle" transform="translate(68,1410) rotate(-90)">MACD</text>
<use href="#xl" y="1514"/>
</svg>
</body></html>
